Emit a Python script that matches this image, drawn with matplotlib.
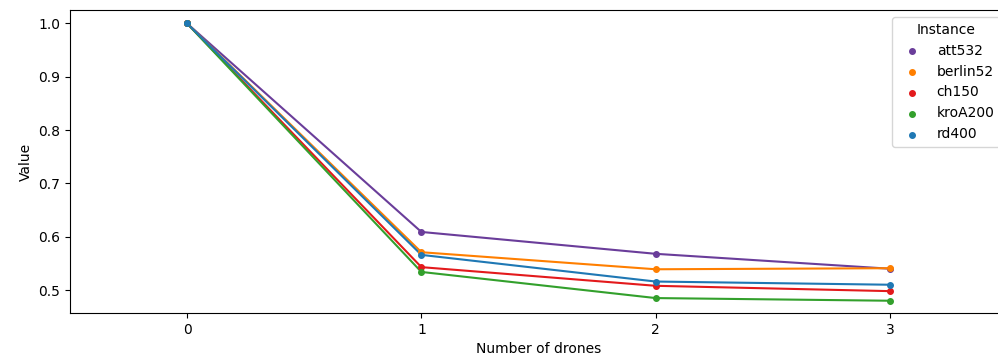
import matplotlib.pyplot as plt

# 数据
drones = [0, 1, 2, 3]
instances = ["att532", "berlin52", "ch150", "kroA200", "rd400"]
att532 = [1.0, 0.609, 0.568, 0.540]
berlin52 = [1.0, 0.571, 0.539, 0.541]
ch150 = [1.0, 0.543, 0.508, 0.498]
kroA200 = [1.0, 0.534, 0.485, 0.480]
rd400 = [1.0, 0.566, 0.516, 0.510]
colors = ["#6a3d9a", "#ff7f00", "#e31a1c", "#33a02c", "#1f78b4"]

series = [att532, berlin52, ch150, kroA200, rd400]

fig = plt.figure(figsize=(9.98, 3.58), dpi=100)
ax = fig.add_axes([0.0701, 0.1257, 0.939, 0.846])

for name, vals, c in zip(instances, series, colors):
    ax.plot(drones, vals, color=c, linewidth=1.5, zorder=2)
    ax.scatter(drones, vals, color=c, s=16, zorder=3, label=name)

ax.set_xlim(-0.5, 3.5)
ax.set_ylim(0.457, 1.025)
ax.set_xticks(drones)
ax.set_xlabel("Number of drones")
ax.set_ylabel("Value")
ax.legend(title="Instance", loc="upper right")

fig.savefig("out.png", dpi=100)
